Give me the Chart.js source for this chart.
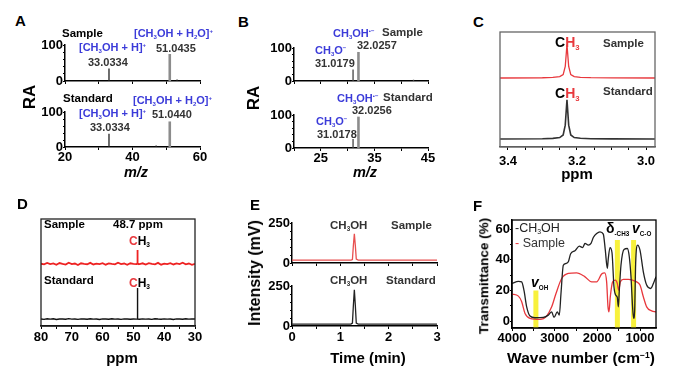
<!DOCTYPE html>
<html>
<head>
<meta charset="utf-8">
<script src="https://cdn.jsdelivr.net/npm/chart.js@4.4.1/dist/chart.umd.min.js"></script>
<style>
body { margin: 0; background: #fff; }
#fig { position: relative; width: 690px; height: 388px; overflow: hidden; font-family: "Liberation Sans", Arial, sans-serif; font-weight: bold; }
#fig canvas { position: absolute; }
.t { position: absolute; white-space: nowrap; line-height: 1; transform: translateY(-50%); z-index: 2; }
.rot { position: absolute; white-space: nowrap; line-height: 1; transform: translate(-50%, -50%) rotate(-90deg); z-index: 2; }
.ctr { position: absolute; white-space: nowrap; line-height: 1; transform: translate(-50%, -50%); z-index: 2; }
.sb { font-size: 0.55em; position: relative; top: 0.35em; }
.sbs { font-size: 0.45em; position: relative; top: 0.4em; }
.sp { font-size: 0.55em; position: relative; top: -0.6em; }
.red { color: #e8383d; }
</style>
</head>
<body>
<div id="fig"></div>
<script>
// A - MS positive mode
const mzA_s = [33.0334, 51.0435, 53.2];
const raA_s = [35, 75, 4];
const mzA_std = [33.0334, 47.0, 51.0440];
const raA_std = [38, 4, 73];
// B - MS negative mode
const mzB_s = [31.0179, 32.0257, 42.3];
const raB_s = [35, 88, 4];
const mzB_std = [31.0178, 32.0256];
const raB_std = [27, 95];
// C - 1H NMR
const ppmC = [3.423, 3.30, 3.27, 3.25, 3.24, 3.234, 3.229, 3.224, 3.218, 3.208, 3.19, 3.16, 3.10, 2.974];
const sampleC = [6.0, 6.02, 6.05, 6.12, 6.3, 7.0, 8.9, 7.0, 6.3, 6.12, 6.06, 6.03, 6.01, 6.0];
const standardC = [0.7, 0.72, 0.75, 0.82, 1.05, 1.9, 4.1, 1.9, 1.05, 0.82, 0.76, 0.72, 0.71, 0.7];
// D - 13C NMR
const ppmD = [80, 79, 78, 77, 76, 75, 74, 73, 72, 71, 70, 69, 68, 67, 66, 65, 64, 63, 62, 61, 60, 59, 58, 57, 56, 55, 54, 53, 52, 51, 50,
  49, 48.8, 48.7, 48.6,
  48, 47, 46, 45, 44, 43, 42, 41, 40, 39, 38, 37, 36, 35, 34, 33, 32, 31, 30];
const sampleD = [5.82, 5.76, 5.9, 5.78, 5.85, 5.72, 5.88, 5.8, 5.74, 5.92, 5.79, 5.84, 5.7, 5.86, 5.81, 5.77, 5.9, 5.75, 5.83, 5.79, 5.87, 5.73, 5.85, 5.8, 5.76, 5.91, 5.78, 5.84, 5.72, 5.86, 5.8,
  5.78, 5.84, 7.1, 5.82,
  5.79, 5.86, 5.74, 5.88, 5.8, 5.76, 5.9, 5.73, 5.83, 5.78, 5.87, 5.75, 5.85, 5.79, 5.91, 5.77, 5.84, 5.72, 5.82];
const standardD = [0.66, 0.62, 0.68, 0.64, 0.67, 0.61, 0.66, 0.65, 0.63, 0.69, 0.64, 0.66, 0.62, 0.67, 0.65, 0.63, 0.68, 0.64, 0.66, 0.61, 0.67, 0.65, 0.63, 0.68, 0.64, 0.66, 0.62, 0.67, 0.65, 0.63, 0.66,
  0.64, 0.66, 3.55, 0.65,
  0.63, 0.67, 0.64, 0.66, 0.62, 0.68, 0.65, 0.63, 0.67, 0.64, 0.66, 0.61, 0.67, 0.65, 0.63, 0.68, 0.64, 0.66, 0.65];
// E - GC
const timeE = [0, 1.22, 1.25, 1.27, 1.29, 1.31, 1.33, 1.37, 3];
const sampleE = [18, 18, 22, 110, 183, 110, 24, 18, 18];
const standardE = [12, 12, 18, 130, 226, 130, 18, 12, 12];
// F - FTIR
const wnF_ref = [4000, 3850, 3773, 3719, 3656, 3578, 3461, 3266, 3149, 3070, 3016, 2938, 2891, 2852, 2797, 2735, 2680, 2625, 2524, 2422, 2344, 2289, 2211, 2149, 2094, 2016, 1938, 1860, 1813, 1766, 1743, 1703, 1656, 1610, 1571, 1532, 1508, 1485, 1446, 1375, 1297, 1251, 1211, 1172, 1149, 1125, 1102, 1055, 1000, 922, 844, 750, 672, 625];
const tF_ref = [24.6, 26, 25.6, 20, 9.3, 3.3, 2.2, 2.4, 3.9, 6, 2.4, 6, 3.9, 18, 36.5, 37.6, 38.7, 44, 45.9, 48.9, 48, 50.7, 49.6, 50.7, 54.6, 57.2, 58.3, 56.8, 46.3, 34.4, 40.9, 48, 44.6, 22.4, 17, 15.5, 9.3, 20, 36.5, 46.8, 47.4, 42, 28.9, 8.3, 1.8, 7.2, 37.6, 49.6, 46.3, 32.2, 23.5, 21.3, 25.6, 28.9];
const wnF_s = [4000, 3850, 3773, 3695, 3578, 3344, 3188, 3070, 2969, 2836, 2680, 2485, 2289, 2133, 2016, 1899, 1829, 1782, 1750, 1727, 1696, 1641, 1578, 1532, 1500, 1461, 1391, 1274, 1172, 1078, 1000, 922, 844, 727, 625];
const tF_s = [17.6, 16.3, 12.6, 5, 1.8, 1.1, 3.3, 9.3, 18, 27.8, 31.1, 31.5, 28.9, 25.6, 25.6, 30.7, 31.5, 25.6, 9.3, 6, 15.9, 25.6, 26.7, 24.6, 20.2, 25.6, 27.2, 27.2, 26.7, 25.6, 23.5, 15.9, 9.3, 6.7, 6];
const bandsF = [3440, 1530, 1150];
const bandTopF = [20, 53, 53];

// ticks
const ticksA_x = [20, 30, 40, 50, 60], labA_x = [20, 40, 60];
const ticksRA = [0, 20, 40, 60, 80, 100], labRA = [0, 100];
const ticksB_x = [20, 25, 30, 35, 40, 45], labB_x = [25, 35, 45];
const ticksC_x = [3.4, 3.35, 3.3, 3.25, 3.2, 3.15, 3.1, 3.05, 3.0], labC_x = [3.4, 3.2, 3.0];
const ticksD_x = [80, 75, 70, 65, 60, 55, 50, 45, 40, 35, 30], labD_x = [80, 70, 60, 50, 40, 30];
const ticksE_x = [0, 0.5, 1, 1.5, 2, 2.5, 3], labE_x = [0, 1, 2, 3];
const ticksE_y = [0, 50, 100, 150, 200, 250], labE_y = [0, 250];
const ticksF_x = [4000, 3500, 3000, 2500, 2000, 1500, 1000], labF_x = [4000, 3000, 2000, 1000];
const ticksF_y = [0, 10, 20, 30, 40, 50, 60], labF_y = [0, 20, 40, 60];

Chart.defaults.font.family = '"Liberation Sans", Arial, sans-serif';
Chart.defaults.font.size = 13;
Chart.defaults.font.weight = 'bold';
Chart.defaults.color = '#000';

const fig = document.getElementById('fig');

const framePlugin = {
  id: 'frame',
  afterDatasetsDraw(chart, args, opts) {
    if (!opts.color) return;
    const a = chart.chartArea, c = chart.ctx;
    c.save();
    c.strokeStyle = opts.color;
    c.lineWidth = 1.3;
    c.strokeRect(a.left, a.top, a.right - a.left, a.bottom - a.top);
    c.restore();
  }
};

function axis(min, max, ticks, labels, fmt, more) {
  return Object.assign({
    type: 'linear', min: min, max: max,
    afterBuildTicks: s => { s.ticks = ticks.map(v => ({ value: v })); },
    ticks: {
      autoSkip: false, maxRotation: 0, padding: 0,
      callback: v => labels.some(l => Math.abs(l - v) < 1e-9) ? fmt(v) : ''
    },
    grid: { drawOnChartArea: false, tickLength: 3, color: '#000' },
    border: { color: '#000', width: 1.5 }
  }, more || {});
}
const hiddenY = (min, max) => ({ type: 'linear', min: min, max: max, display: false });
const shortTicks = { grid: { drawOnChartArea: false, tickLength: 2, color: '#000' } };

function line(xs, ys) { return xs.map((x, i) => ({ x: x, y: ys[i] })); }
function sticks(xs, ys, base) {
  const pts = [];
  xs.forEach((x, i) => { pts.push({ x: x, y: base }, { x: x, y: ys[i] }, { x: x, y: null }); });
  return pts;
}
// tallest peak is drawn as the thick grey line
function msSets(xs, ys, thin) {
  const top = ys.indexOf(Math.max(...ys));
  const ox = xs.filter((v, i) => i !== top), oy = ys.filter((v, i) => i !== top);
  return [
    { data: sticks(ox, oy, 0), borderColor: thin, borderWidth: 1.3 },
    { data: sticks([xs[top]], [ys[top]], 0), borderColor: '#8c8c8c', borderWidth: 2.6 }
  ];
}

function plot(area, yW, xH, datasets, xScale, yScale, frame) {
  const pad = { left: 16, right: 16, top: 10, bottom: 0 };
  const w = area[2] - area[0] + pad.left + pad.right + yW;
  const h = area[3] - area[1] + pad.top + xH;
  const cv = document.createElement('canvas');
  cv.width = w; cv.height = h;
  cv.style.left = (area[0] - pad.left - yW) + 'px';
  cv.style.top = (area[1] - pad.top) + 'px';
  cv.style.width = w + 'px'; cv.style.height = h + 'px';
  fig.appendChild(cv);
  xScale.afterFit = s => { s.height = xH; };
  yScale.afterFit = s => { s.width = yW; };
  return new Chart(cv, {
    type: 'line',
    data: { datasets: datasets },
    options: {
      responsive: false, animation: false, devicePixelRatio: 1,
      layout: { padding: pad },
      plugins: { legend: { display: false }, tooltip: { enabled: false }, frame: { color: frame } },
      scales: { x: xScale, y: yScale },
      elements: { point: { radius: 0 }, line: { borderWidth: 1.2, tension: 0 } }
    },
    plugins: [framePlugin]
  });
}

const noLab = () => '';
const num = v => String(v);

// A
plot([65, 45, 200, 81], 30, 12, msSets(mzA_s, raA_s, '#222'),
  axis(20, 60, ticksA_x, [], noLab), axis(0, 100, ticksRA, labRA, num, shortTicks));
plot([65, 112, 200, 147], 30, 30, msSets(mzA_std, raA_std, '#222'),
  axis(20, 60, ticksA_x, labA_x, num), axis(0, 100, ticksRA, labRA, num, shortTicks));
// B
plot([294, 48, 428, 81], 30, 12, msSets(mzB_s, raB_s, '#444'),
  axis(20, 45, ticksB_x, [], noLab), axis(0, 100, ticksRA, labRA, num, shortTicks));
plot([294, 115, 428, 148], 30, 30, msSets(mzB_std, raB_std, '#444'),
  axis(20, 45, ticksB_x, labB_x, num), axis(0, 100, ticksRA, labRA, num, shortTicks));
// C
plot([500, 32, 655, 147], 0, 34, [
  { data: line(ppmC, sampleC), borderColor: '#e8383d', borderWidth: 1.3 },
  { data: line(ppmC, standardC), borderColor: '#333', borderWidth: 1.6 }
], axis(2.974, 3.423, ticksC_x, labC_x, v => v.toFixed(1), { reverse: true, border: { color: '#555', width: 1.3 }, ticks: { autoSkip: false, maxRotation: 0, padding: 4, callback: v => labC_x.some(l => Math.abs(l - v) < 1e-9) ? v.toFixed(1) : '' } }),
  hiddenY(0, 10), '#666');
// D
plot([41, 219, 195, 326], 0, 30, [
  { data: line(ppmD, sampleD), borderColor: '#ee2222', borderWidth: 1.8 },
  { data: line(ppmD, standardD), borderColor: '#111', borderWidth: 1.4 }
], axis(30, 80, ticksD_x, labD_x, num, { reverse: true, ticks: { autoSkip: false, maxRotation: 0, padding: 1, callback: v => labD_x.includes(v) ? v : '' } }),
  hiddenY(0, 10), '#222');
// E
plot([292, 223, 437, 263], 30, 12, [
  { data: line(timeE, sampleE), borderColor: '#e85050', borderWidth: 1.3 }
], axis(0, 3, ticksE_x, [], noLab), axis(0, 250, ticksE_y, labE_y, num, shortTicks));
plot([292, 286, 437, 326], 30, 30, [
  { data: line(timeE, standardE), borderColor: '#222', borderWidth: 1.3 }
], axis(0, 3, ticksE_x, labE_x, num, { ticks: { autoSkip: false, maxRotation: 0, padding: 1, callback: v => labE_x.includes(v) ? v : '' } }),
  axis(0, 250, ticksE_y, labE_y, num, shortTicks));
// F
plot([512, 220, 656, 328], 24, 30, [
  { data: line(wnF_ref, tF_ref), borderColor: '#222', borderWidth: 1.3, cubicInterpolationMode: 'monotone', order: 1 },
  { data: line(wnF_s, tF_s), borderColor: '#e8383d', borderWidth: 1.3, cubicInterpolationMode: 'monotone', order: 2 },
  { data: sticks(bandsF, bandTopF, -4.5), borderColor: 'rgba(248,240,50,0.95)', borderWidth: 5, order: 3 }
], axis(625, 4000, ticksF_x, labF_x, num, { reverse: true }),
  axis(-4.5, 66, ticksF_y, labF_y, num, shortTicks), '#000');

// text
const blue = '#3b3bd9', grey = '#333';
const texts = [
  ['A', 15, 20, 15], ['B', 238, 20.5, 15], ['C', 473, 21, 15], ['D', 17, 203, 15], ['E', 250, 204, 15], ['F', 473, 205, 15],
  ['Sample', 62, 34, 11.5], ['[CH<span class="sb">3</span>OH + H<span class="sb">2</span>O]<span class="sp">+</span>', 134, 33, 11, blue],
  ['51.0435', 156, 48, 11, grey], ['[CH<span class="sb">3</span>OH + H]<span class="sp">+</span>', 79, 47, 11, blue], ['33.0334', 88, 62, 11, grey],
  ['Standard', 63, 99, 11.5], ['[CH<span class="sb">3</span>OH + H<span class="sb">2</span>O]<span class="sp">+</span>', 133, 100, 11, blue],
  ['[CH<span class="sb">3</span>OH + H]<span class="sp">+</span>', 79, 113, 11, blue], ['51.0440', 152, 114, 11, grey], ['33.0334', 90, 127, 11, grey],
  ['CH<span class="sb">3</span>OH<span class="sp">•−</span>', 333, 33, 11, blue], ['Sample', 382, 33, 11.5, grey], ['32.0257', 357, 45, 11, grey],
  ['CH<span class="sb">3</span>O<span class="sp">−</span>', 315, 50, 11, blue], ['31.0179', 315, 63, 11, grey],
  ['CH<span class="sb">3</span>OH<span class="sp">•−</span>', 337, 98, 11, blue], ['Standard', 383, 98, 11.5, grey], ['32.0256', 352, 110, 11, grey],
  ['CH<span class="sb">3</span>O<span class="sp">−</span>', 316, 121, 11, blue], ['31.0178', 317, 134, 11, grey],
  ['C<span class="red">H<span class="sb">3</span></span>', 555, 42, 14], ['Sample', 603, 44, 11.5, grey],
  ['C<span class="red">H<span class="sb">3</span></span>', 555, 93, 14], ['Standard', 603, 92, 11.5, grey],
  ['Sample', 44, 225, 11.5], ['48.7 ppm', 113, 225, 11.5], ['<span class="red">C</span>H<span class="sb">3</span>', 129, 241, 12],
  ['Standard', 44, 281, 11.5], ['<span class="red">C</span>H<span class="sb">3</span>', 129, 283, 12],
  ['CH<span class="sb">3</span>OH', 330, 226, 11.5, grey], ['Sample', 391, 226, 11.5, grey],
  ['CH<span class="sb">3</span>OH', 330, 281, 11.5, grey], ['Standard', 386, 281, 11.5, grey],
  ['<span style="color:#222">-</span>CH<span class="sb">3</span>OH', 515, 228, 12.5, '#222', 'normal'],
  ['<span class="red">-</span> Sample', 515, 243, 12.5, '#333', 'normal'],
  ['δ<span class="sbs">-CH3</span>', 606, 228, 14], ['<i>v</i><span class="sbs">C-O</span>', 632, 228, 14], ['<i>v</i><span class="sbs">OH</span>', 531, 282, 14]
];
texts.forEach(t => {
  const d = document.createElement('div');
  d.className = 't';
  d.innerHTML = t[0];
  d.style.left = t[1] + 'px'; d.style.top = t[2] + 'px';
  d.style.fontSize = t[3] + 'px';
  if (t[4]) d.style.color = t[4];
  if (t[5]) d.style.fontWeight = t[5];
  fig.appendChild(d);
});
const titles = [
  ['rot', 'RA', 29, 97, 17], ['rot', 'RA', 253, 98, 17],
  ['ctr', '<i>m/z</i>', 136, 172, 14.5], ['ctr', '<i>m/z</i>', 365, 172, 14.5],
  ['ctr', 'ppm', 577, 173, 15], ['ctr', 'ppm', 122, 357, 15],
  ['rot', 'Intensity (mV)', 255, 273, 16], ['ctr', 'Time (min)', 368, 357, 15],
  ['rot', 'Transmittance (%)', 484, 276, 13.5], ['ctr', 'Wave number (cm<span class="sp">−1</span>)', 581, 358, 15.5]
];
titles.forEach(t => {
  const d = document.createElement('div');
  d.className = t[0];
  d.innerHTML = t[1];
  d.style.left = t[2] + 'px'; d.style.top = t[3] + 'px';
  d.style.fontSize = t[4] + 'px';
  fig.appendChild(d);
});
</script>
</body>
</html>
